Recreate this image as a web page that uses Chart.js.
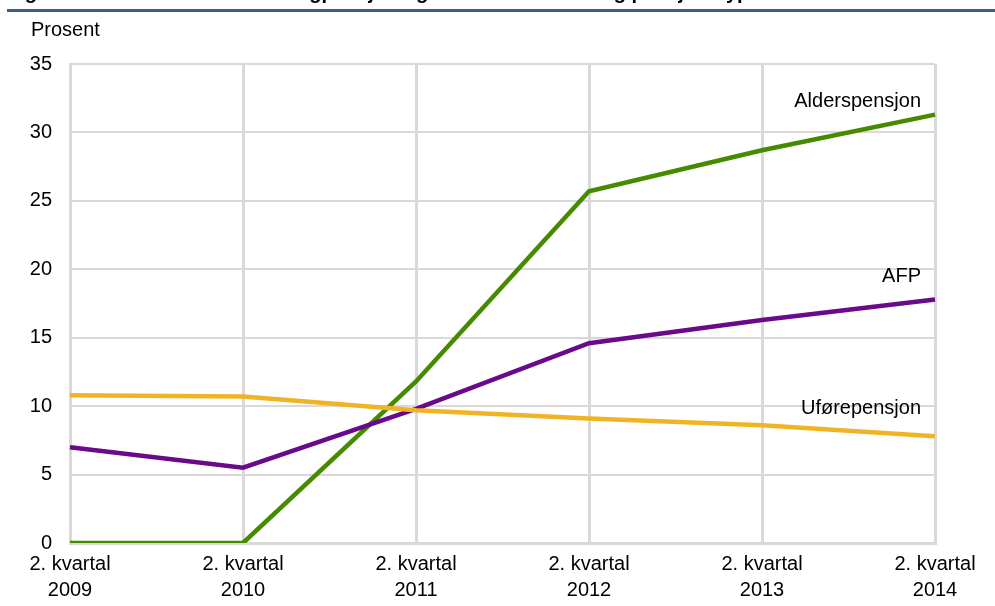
<!DOCTYPE html>
<html lang="no">
<head>
<meta charset="utf-8">
<title>Pensjonstype</title>
<script src="https://cdn.jsdelivr.net/npm/chart.js@4.4.1/dist/chart.umd.min.js"></script>
<style>
    html, body { margin: 0; padding: 0; background: #fff; }
    #wrap { position: relative; width: 995px; height: 606px; }
</style>
</head>
<body>
<div id="wrap"><canvas id="chart"></canvas></div>
<script>
(function() {
    'use strict';

    // Data
    const quarters = [
        ['2. kvartal', '2009'],
        ['2. kvartal', '2010'],
        ['2. kvartal', '2011'],
        ['2. kvartal', '2012'],
        ['2. kvartal', '2013'],
        ['2. kvartal', '2014']
    ];
    const alderspensjon = [0, 0, 11.8, 25.7, 28.7, 31.3];
    const afp = [7.0, 5.5, 9.8, 14.6, 16.3, 17.8];
    const uforepensjon = [10.8, 10.7, 9.7, 9.1, 8.6, 7.8];
    const yTicks = [0, 5, 10, 15, 20, 25, 30, 35];

    const titleText = 'Figur 3. Andel med uttak av tidligpensjon og arbeid etter alder og pensjonstype';
    const unitText = 'Prosent';
    const font = '"Liberation Sans", Arial, sans-serif';
    const gridColor = '#d9d9d9';

    // Series name drawn near the end of each line
    const endLabels = {
        id: 'endLabels',
        afterDatasetsDraw(chart) {
            const ctx = chart.ctx;
            const xs = chart.scales.x;
            const ys = chart.scales.y;
            ctx.save();
            ctx.font = '20px ' + font;
            ctx.fillStyle = '#000';
            ctx.textAlign = 'right';
            ctx.textBaseline = 'middle';
            chart.data.datasets.forEach(ds => {
                const last = ds.data.length - 1;
                const x = xs.getPixelForValue(last) - 14;
                const y = ys.getPixelForValue(ds.data[last]) + ds.labelDy;
                ctx.fillText(ds.label, x, y);
            });
            ctx.restore();
        }
    };

    // Heading strip (cut off at the top), rule and unit text
    const header = {
        id: 'header',
        beforeDraw(chart) {
            const ctx = chart.ctx;
            ctx.save();
            ctx.font = 'bold 20px ' + font;
            ctx.fillStyle = '#000';
            ctx.textAlign = 'left';
            ctx.textBaseline = 'alphabetic';
            ctx.fillText(titleText, 7, -1);
            ctx.strokeStyle = '#3f5e8c';
            ctx.lineWidth = 3;
            ctx.beginPath();
            ctx.moveTo(7, 10.5);
            ctx.lineTo(995, 10.5);
            ctx.stroke();
            ctx.font = '20px ' + font;
            ctx.textBaseline = 'middle';
            ctx.fillText(unitText, 31, 30);
            ctx.restore();
        }
    };

    const ctx = document.getElementById('chart').getContext('2d');

    new Chart(ctx, {
        type: 'line',
        data: {
            labels: quarters,
            datasets: [
                {
                    label: 'Uførepensjon',
                    data: uforepensjon,
                    borderColor: '#f0b323',
                    labelDy: -28
                },
                {
                    label: 'AFP',
                    data: afp,
                    borderColor: '#690a8c',
                    labelDy: -23
                },
                {
                    label: 'Alderspensjon',
                    data: alderspensjon,
                    borderColor: '#468a00',
                    labelDy: -13
                }
            ]
        },
        options: {
            responsive: true,
            maintainAspectRatio: false,
            animation: false,
            devicePixelRatio: 1,
            layout: {
                padding: { top: 64, right: 60, bottom: 0, left: 0 }
            },
            elements: {
                line: { borderWidth: 4.5, tension: 0, borderCapStyle: 'butt' },
                point: { radius: 0, hoverRadius: 0 }
            },
            plugins: {
                legend: { display: false },
                tooltip: { enabled: false },
                title: { display: false }
            },
            scales: {
                x: {
                    offset: false,
                    grid: { color: gridColor, lineWidth: 3, drawTicks: false },
                    border: { color: gridColor, width: 3 },
                    ticks: {
                        color: '#000',
                        font: { family: font, size: 20, lineHeight: 1.3 },
                        maxRotation: 0,
                        autoSkip: false,
                        padding: 8
                    },
                    afterFit(scale) { scale.height = 63; }
                },
                y: {
                    min: 0,
                    max: 35,
                    afterBuildTicks(scale) {
                        scale.ticks = yTicks.map(v => ({ value: v }));
                    },
                    grid: { color: gridColor, lineWidth: 2, drawTicks: false },
                    border: { color: gridColor, width: 2 },
                    ticks: {
                        color: '#000',
                        font: { family: font, size: 20 },
                        padding: 18
                    },
                    afterFit(scale) { scale.width = 70; }
                }
            }
        },
        plugins: [header, endLabels]
    });
})();
</script>
</body>
</html>
